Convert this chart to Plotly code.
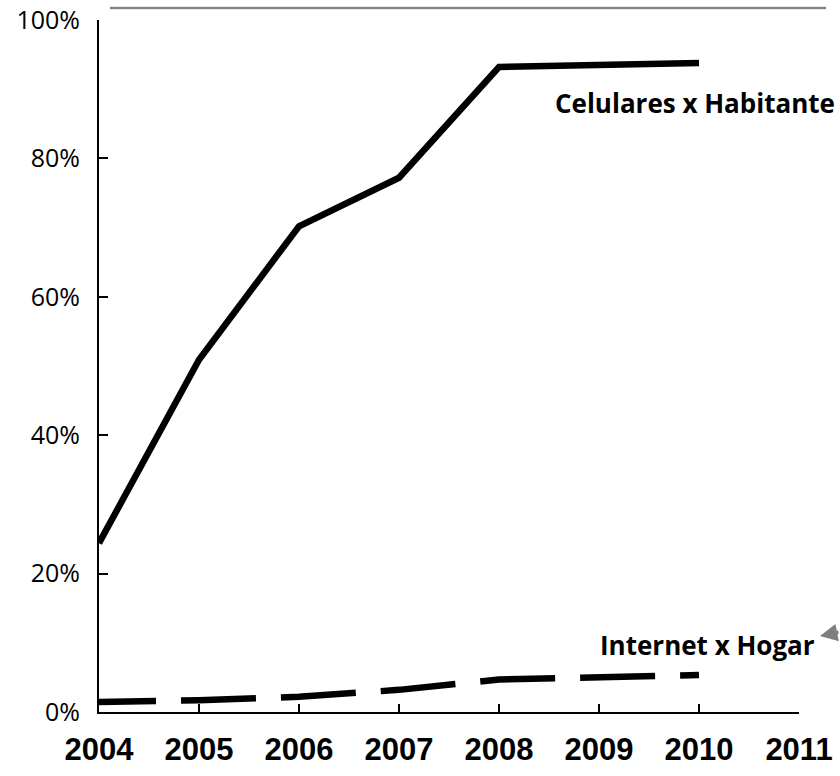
import plotly.graph_objects as go

years = [2004, 2005, 2006, 2007, 2008, 2009, 2010]
celulares = [24.4, 50.9, 70.2, 77.2, 93.2, 93.5, 93.8]
internet = [1.45, 1.7, 2.2, 3.2, 4.7, 5.1, 5.35]
x_ticks = [2004, 2005, 2006, 2007, 2008, 2009, 2010, 2011]
y_ticks = [0, 20, 40, 60, 80, 100]
y_labels = ["0%", "20%", "40%", "60%", "80%", "100%"]

dash = "57px,25px," + ",".join(["75px,25px"] * 7)

fig = go.Figure()
fig.add_trace(go.Scatter(x=years, y=celulares, mode="lines",
                         line=dict(color="black", width=6.5),
                         name="Celulares x Habitante", showlegend=False,
                         cliponaxis=False))
fig.add_trace(go.Scatter(x=years, y=internet, mode="lines",
                         line=dict(color="black", width=6.5, dash=dash),
                         name="Internet x Hogar", showlegend=False,
                         cliponaxis=False))

fig.add_annotation(x=2009.96, y=88.0, xref="x", yref="y", text="<b>Celulares x Habitante</b>",
                   showarrow=False, font=dict(family="Open Sans", size=26, color="black"))
fig.add_annotation(x=2010.08, y=9.7, xref="x", yref="y", text="<b>Internet x Hogar</b>",
                   showarrow=False, font=dict(family="Open Sans", size=26, color="black"))
# small gray leader arrow
fig.add_annotation(x=1.03, y=0.1098, xref="paper", yref="paper", text="",
                   showarrow=True, arrowhead=2, arrowsize=1, arrowwidth=3.5,
                   arrowcolor="#7f7f7f", ax=26, ay=-4)

# top gray border line
fig.add_shape(type="line", xref="paper", yref="paper", x0=0.0157, x1=1.0386,
              y0=1.0173, y1=1.0173, line=dict(color="#868686", width=2.5))

fig.update_layout(
    width=840, height=776,
    margin=dict(l=99, r=41, t=20, b=64, autoexpand=False),
    paper_bgcolor="white", plot_bgcolor="white",
    showlegend=False,
)
fig.update_xaxes(range=[2004, 2011], tickvals=x_ticks, ticktext=[str(v) for v in x_ticks],
                 showgrid=False, zeroline=False, showline=True, linecolor="black", linewidth=2,
                 ticks="inside", ticklen=8, tickwidth=2, tickcolor="black", automargin=False,
                 tickfont=dict(family="Liberation Sans", size=31, color="black", weight="bold"),
                 ticklabelstandoff=9, ticklabeloverflow="allow")
fig.update_yaxes(range=[0, 100], tickvals=y_ticks, ticktext=y_labels,
                 showgrid=False, zeroline=False, showline=True, linecolor="black", linewidth=2,
                 ticks="inside", ticklen=9, tickwidth=2, tickcolor="black", automargin=False,
                 tickfont=dict(family="Open Sans", size=25, color="black"),
                 ticklabelstandoff=12, ticklabeloverflow="allow")

fig.write_html("out.html", config={"displayModeBar": False},
               post_script="document.body.style.margin='0px';document.body.style.overflow='hidden';")
